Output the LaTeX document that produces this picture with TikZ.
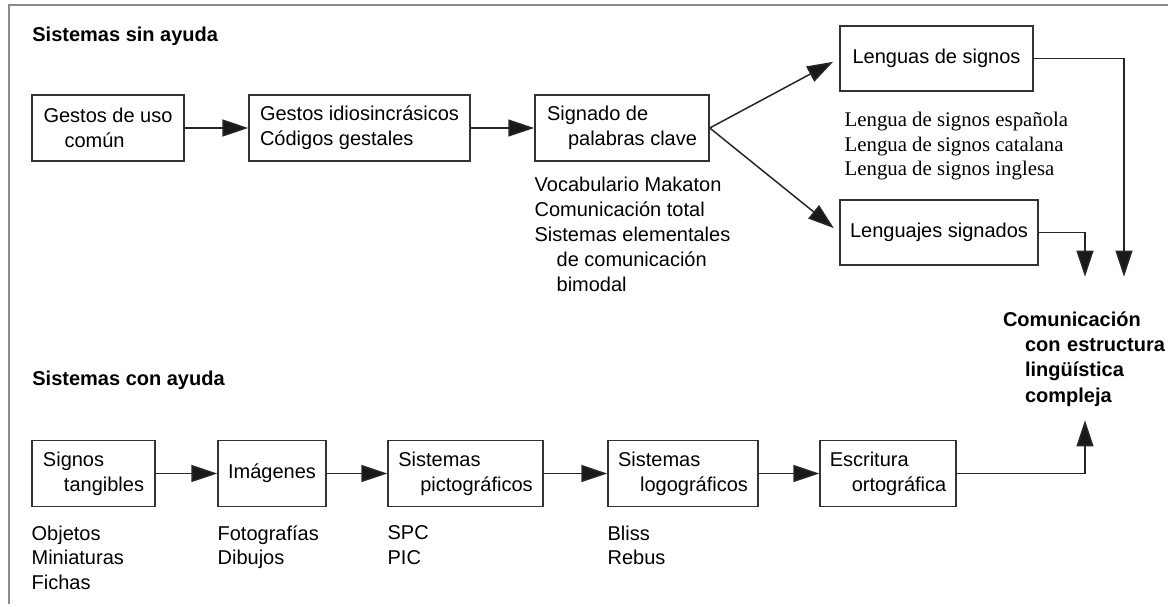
\documentclass[tikz,border=0pt]{standalone}
\usepackage{fontspec}
\setmainfont{Liberation Sans}
\newfontfamily\romanfont{Liberation Serif}
\usetikzlibrary{arrows.meta, positioning}

\begin{document}
\begin{tikzpicture}[x=0.5pt, y=-0.5pt,
    font=\fontsize{10}{12.5}\selectfont,
    box/.style={rectangle, draw=black!80, line width=0.75pt, align=left, inner sep=0pt, minimum height=33pt},
    note/.style={align=left, inner sep=0pt},
    title/.style={inner sep=0pt, font=\fontsize{10}{12}\selectfont\bfseries},
    arr/.style={-{Triangle[length=13pt, width=8.5pt, fill=black!90]}, line width=0.75pt, draw=black!85}]
    % frame
    \useasboundingbox (0,0) rectangle (1168,606);
    \draw[black!45, line width=1pt] (9,604) -- (9,5) -- (1168,5);
    % section titles
    \node[title, anchor=base west] (sin) at (32,41) {Sistemas sin ayuda};
    \node[title, anchor=base west] (con) at (32,385) {Sistemas con ayuda};
    % unaided system nodes
    \node[box, minimum width=76pt] (gestos) at (108,128) {Gestos de uso\\\hspace*{10.5pt}común};
    \node[box, minimum width=110.5pt] (idio) at (359.5,128) {Gestos idiosincrásicos\\Códigos gestales};
    \node[box, minimum width=87pt] (signado) at (622,128) {Signado de\\\hspace*{10.5pt}palabras clave};
    \node[box, minimum width=96.5pt, minimum height=32.5pt] (lenguas) at (936.5,58.5) {Lenguas de signos};
    \node[box, minimum width=99pt, minimum height=32.5pt] (lenguajes) at (939,232.5) {Lenguajes signados};
    % aided system nodes
    \node[box, minimum width=61.5pt] (tangibles) at (93.5,473.5) {Signos\\\hspace*{10.5pt}tangibles};
    \node[box, minimum width=54pt] (imagenes) at (272,473.5) {Imágenes};
    \node[box, minimum width=77.5pt] (picto) at (465.5,473.5) {Sistemas\\\hspace*{11pt}pictográficos};
    \node[box, minimum width=75pt] (logo) at (683,473.5) {Sistemas\\\hspace*{11pt}logográficos};
    \node[box, minimum width=68pt] (escritura) at (888,473.5) {Escritura\\\hspace*{11pt}ortográfica};
    % goal node
    \node[note, text width=85pt, minimum height=57pt, font=\fontsize{10}{12.6}\selectfont\bfseries] (meta) at (1088,359)
        {Comunicación\\\hspace*{11pt}con estructura\\\hspace*{11pt}lingüística\\\hspace*{11pt}compleja};
    % examples under the boxes
    \node[note, below right=7.5pt and 0pt of signado.south west] (ejsignado)
        {Vocabulario Makaton\\Comunicación total\\Sistemas elementales\\\hspace*{11pt}de comunicación\\\hspace*{11pt}bimodal};
    \node[note, below right=10pt and 2.5pt of lenguas.south west, font=\romanfont\fontsize{10.4}{12.3}\selectfont] (ejlenguas)
        {Lengua de signos española\\Lengua de signos catalana\\Lengua de signos inglesa};
    \node[note, below right=9pt and 0pt of tangibles.south west, font=\fontsize{10}{12.3}\selectfont] (ejtangibles) {Objetos\\Miniaturas\\Fichas};
    \node[note, below right=9pt and 0pt of imagenes.south west, font=\fontsize{10}{12.3}\selectfont] (ejimagenes) {Fotografías\\Dibujos};
    \node[note, below right=9pt and 0pt of picto.south west, font=\fontsize{10}{12.3}\selectfont] (ejpicto) {SPC\\PIC};
    \node[note, below right=9pt and 0pt of logo.south west, font=\fontsize{10}{12.3}\selectfont] (ejlogo) {Bliss\\Rebus};
    % unaided chain
    \draw[arr] (gestos) -- (idio);
    \draw[arr] (idio) -- (signado);
    \draw[arr, shorten >=3.5pt] (signado.east) -- (lenguas.west);
    \draw[arr, shorten >=3.5pt] (signado.east) -- (lenguajes.west);
    \draw[arr, shorten >=12.5pt] (lenguas.east) -| ([xshift=18pt]meta.north);
    \draw[arr, shorten >=12.5pt] (lenguajes.east) -| ([xshift=-1.5pt]meta.north);
    % aided chain
    \draw[arr] (tangibles) -- (imagenes);
    \draw[arr] (imagenes) -- (picto);
    \draw[arr] (picto) -- (logo);
    \draw[arr] (logo) -- (escritura);
    \draw[arr, shorten >=2pt] (escritura.east) -| ([xshift=-1.5pt]meta.south);
\end{tikzpicture}
\end{document}
